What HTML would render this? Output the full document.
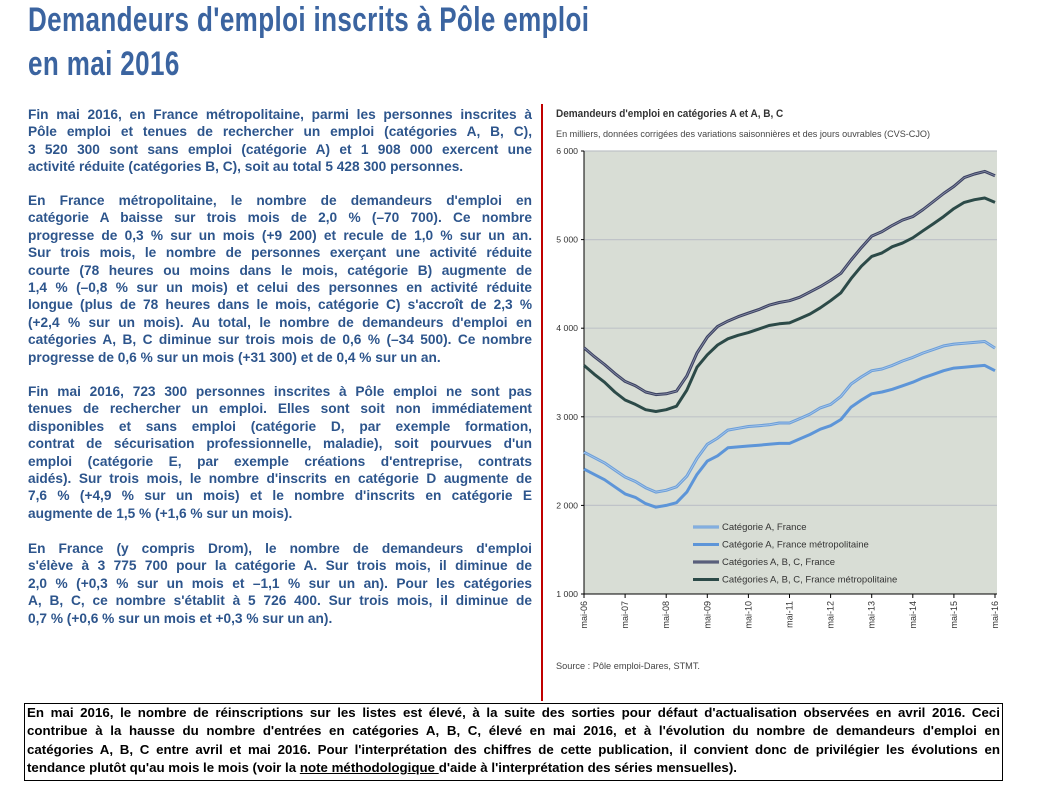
<!DOCTYPE html>
<html><head><meta charset="utf-8"><style>
body{margin:0;width:1051px;height:787px;background:#fff;position:relative;overflow:hidden;font-family:"Liberation Sans",sans-serif}
.t{position:absolute;left:28px;color:#3b64a0;font-weight:bold;font-size:34px;transform:scaleX(0.765);transform-origin:0 0;white-space:nowrap;letter-spacing:0.5px}
.p{position:absolute;left:28px;width:504px;color:#2d558c;font-weight:bold;font-size:13.7px;line-height:17.4px}
.p div{text-align:justify;text-align-last:justify;white-space:nowrap}
.p div.l{text-align-last:left}
#box{position:absolute;left:24px;top:703px;width:973px;height:76px;border:1px solid #000;padding:0 2px}
#box div{font-size:13.3px;font-weight:bold;line-height:18.3px;text-align:justify;text-align-last:justify;white-space:nowrap}
#box div.l{text-align-last:left}
</style></head><body>
<div class="t" style="top:1px">Demandeurs d'emploi inscrits à Pôle emploi</div>
<div class="t" style="top:45px">en mai 2016</div>

<div class="p" style="top:106px">
<div>Fin mai 2016, en France métropolitaine, parmi les personnes inscrites à</div>
<div>Pôle emploi et tenues de rechercher un emploi (catégories A, B, C),</div>
<div>3 520 300 sont sans emploi (catégorie A) et 1 908 000 exercent une</div>
<div class="l">activité réduite (catégories B, C), soit au total 5 428 300 personnes.</div>
</div>
<div class="p" style="top:192px">
<div>En France métropolitaine, le nombre de demandeurs d'emploi en</div>
<div>catégorie A baisse sur trois mois de 2,0 % (–70 700). Ce nombre</div>
<div>progresse de 0,3 % sur un mois (+9 200) et recule de 1,0 % sur un an.</div>
<div>Sur trois mois, le nombre de personnes exerçant une activité réduite</div>
<div>courte (78 heures ou moins dans le mois, catégorie B) augmente de</div>
<div>1,4 % (–0,8 % sur un mois) et celui des personnes en activité réduite</div>
<div>longue (plus de 78 heures dans le mois, catégorie C) s'accroît de 2,3 %</div>
<div>(+2,4 % sur un mois). Au total, le nombre de demandeurs d'emploi en</div>
<div>catégories A, B, C diminue sur trois mois de 0,6 % (–34 500). Ce nombre</div>
<div class="l">progresse de 0,6 % sur un mois (+31 300) et de 0,4 % sur un an.</div>
</div>
<div class="p" style="top:383px">
<div>Fin mai 2016, 723 300 personnes inscrites à Pôle emploi ne sont pas</div>
<div>tenues de rechercher un emploi. Elles sont soit non immédiatement</div>
<div>disponibles et sans emploi (catégorie D, par exemple formation,</div>
<div>contrat de sécurisation professionnelle, maladie), soit pourvues d'un</div>
<div>emploi (catégorie E, par exemple créations d'entreprise, contrats</div>
<div>aidés). Sur trois mois, le nombre d'inscrits en catégorie D augmente de</div>
<div>7,6 % (+4,9 % sur un mois) et le nombre d'inscrits en catégorie E</div>
<div class="l">augmente de 1,5 % (+1,6 % sur un mois).</div>
</div>
<div class="p" style="top:540px">
<div>En France (y compris Drom), le nombre de demandeurs d'emploi</div>
<div>s'élève à 3 775 700 pour la catégorie A. Sur trois mois, il diminue de</div>
<div>2,0 % (+0,3 % sur un mois et –1,1 % sur un an). Pour les catégories</div>
<div>A, B, C, ce nombre s'établit à 5 726 400. Sur trois mois, il diminue de</div>
<div class="l">0,7 % (+0,6 % sur un mois et +0,3 % sur un an).</div>
</div>

<div style="position:absolute;left:541px;top:104px;width:2px;height:597px;background:#c00000"></div>

<svg id="chart" style="position:absolute;left:0;top:0" width="1051" height="700"></svg>

<div id="box">
<div>En mai 2016, le nombre de réinscriptions sur les listes est élevé, à la suite des sorties pour défaut d'actualisation observées en avril 2016. Ceci</div>
<div>contribue à la hausse du nombre d'entrées en catégories A, B, C, élevé en mai 2016, et à l'évolution du nombre de demandeurs d'emploi en</div>
<div>catégories A, B, C entre avril et mai 2016. Pour l'interprétation des chiffres de cette publication, il convient donc de privilégier les évolutions en</div>
<div class="l">tendance plutôt qu'au mois le mois (voir la <u>note méthodologique </u> d'aide à l'interprétation des séries mensuelles).</div>
</div>

<script>
const xLabels=["mai-06","mai-07","mai-08","mai-09","mai-10","mai-11","mai-12","mai-13","mai-14","mai-15","mai-16"];
const yTicks=[1000,2000,3000,4000,5000,6000];
const catAFrance=[2600,2540,2480,2400,2320,2270,2200,2150,2170,2210,2330,2530,2690,2760,2850,2870,2890,2900,2910,2930,2930,2980,3030,3100,3140,3230,3370,3450,3520,3540,3580,3630,3670,3720,3760,3800,3820,3830,3840,3850,3775];
const catAMetro=[2410,2350,2290,2210,2130,2090,2020,1980,2000,2030,2150,2350,2500,2560,2650,2660,2670,2680,2690,2700,2700,2750,2800,2860,2900,2970,3110,3190,3260,3280,3310,3350,3390,3440,3480,3520,3550,3560,3570,3580,3520];
const abcFrance=[3780,3680,3590,3490,3400,3350,3280,3250,3260,3290,3460,3720,3900,4020,4080,4130,4170,4210,4260,4290,4310,4350,4410,4470,4540,4620,4770,4910,5040,5090,5160,5220,5260,5340,5430,5520,5600,5700,5740,5770,5720];
const abcMetro=[3580,3480,3390,3280,3190,3140,3080,3060,3080,3120,3300,3560,3700,3810,3880,3920,3950,3990,4030,4050,4060,4110,4160,4230,4310,4400,4560,4700,4810,4850,4920,4960,5020,5100,5180,5260,5350,5420,5450,5470,5420];
const seriesNames=["Catégorie A, France","Catégorie A, France métropolitaine","Catégories A, B, C, France","Catégories A, B, C, France métropolitaine"];

const NS="http://www.w3.org/2000/svg";
const svg=document.getElementById('chart');
const X0=584,X1=995,Y6=151,Y1=594,PR=997;
const xs=i=>X0+(X1-X0)*i/(catAFrance.length-1);
const ys=v=>Y1-(v-1000)*(Y1-Y6)/5000;
function mk(t,a){const e=document.createElementNS(NS,t);for(const k in a)e.setAttribute(k,a[k]);svg.appendChild(e);return e;}
function txt(x,y,s,a){const e=mk('text',Object.assign({x:x,y:y},a));e.textContent=s;return e;}

let e=txt(556,117,"Demandeurs d'emploi en catégories A et A,  B,  C",{'font-size':'11.5','font-weight':'bold',fill:'#333','transform':'translate(556,0) scale(0.87,1) translate(-556,0)'});

e=txt(556,137,"En milliers, données corrigées des variations saisonnières et des jours ouvrables (CVS-CJO)",{'font-size':'9.1',fill:'#444'});


e=mk('rect',{x:X0,y:Y6,width:PR-X0,height:Y1-Y6,fill:'#d8ddd5'});


yTicks.forEach(v=>{
  if(v>1000){const g=mk('line',{x1:X0,x2:PR,y1:ys(v),y2:ys(v),stroke:'#bfc3c8','stroke-width':1.2});
  }
  const t=txt(578,ys(v)+3,'',{'font-size':'8.7',fill:'#333','text-anchor':'end'});
  t.textContent=String(v).replace(/(\d)(\d{3})$/,'$1 $2');
  
  mk('line',{x1:X0-3,x2:X0,y1:ys(v),y2:ys(v),stroke:'#000'});
});
mk('line',{x1:X0,x2:X0,y1:Y6,y2:Y1,stroke:'#000','stroke-width':1});
mk('line',{x1:X0,x2:PR,y1:Y1,y2:Y1,stroke:'#000','stroke-width':1});
xLabels.forEach((s,i)=>{
  const x=X0+(X1-X0)*i/(xLabels.length-1);
  mk('line',{x1:x,x2:x,y1:Y1,y2:Y1+4,stroke:'#000'});
  const t=txt(0,0,s,{'font-size':'9',fill:'#333','text-anchor':'end',transform:`translate(${x+3},${Y1+7}) rotate(-90)`});
  
});

const styles=[
 {d:catAFrance,c:'#6d9fd8',w:3,inner:'#a9c8ec'},
 {d:catAMetro,c:'#5d95d8',w:3,inner:null},
 {d:abcFrance,c:'#3c4262',w:3,inner:'#8a90a8'},
 {d:abcMetro,c:'#2c4a48',w:3,inner:null}];
styles.forEach((s,k)=>{
  const pts=s.d.map((v,i)=>xs(i).toFixed(1)+','+ys(v).toFixed(1)).join(' ');
  const p=mk('polyline',{points:pts,fill:'none',stroke:s.c,'stroke-width':s.w,'stroke-linejoin':'round'});
  
  if(s.inner)mk('polyline',{points:pts,fill:'none',stroke:s.inner,'stroke-width':0.8});
  const ly=527+k*17.5;
  const l=mk('line',{x1:693,x2:719,y1:ly,y2:ly,stroke:s.c,'stroke-width':3});
  
  if(s.inner)mk('line',{x1:693,x2:719,y1:ly,y2:ly,stroke:s.inner,'stroke-width':0.8});
  const t=txt(722,ly+3,seriesNames[k],{'font-size':'9.5',fill:'#333'});
  
});
e=txt(556,669,"Source : Pôle emploi-Dares, STMT.",{'font-size':'9.2',fill:'#444'});

</script>
</body></html>
